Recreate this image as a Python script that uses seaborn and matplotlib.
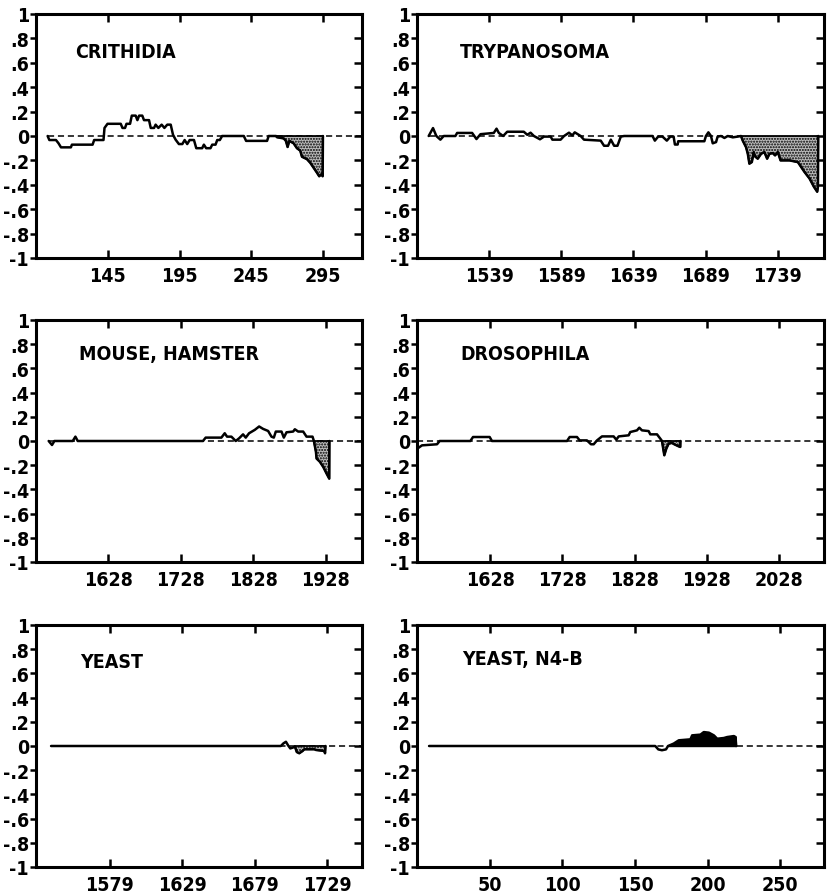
import numpy as np
import pandas as pd
import matplotlib
matplotlib.use("Agg")
import matplotlib.pyplot as plt
import seaborn as sns
from matplotlib import font_manager as fm

# ---------------- data ----------------
y_ticks = [1, 0.8, 0.6, 0.4, 0.2, 0, -0.2, -0.4, -0.6, -0.8, -1]
y_tick_labels = ["1", ".8", ".6", ".4", ".2", "0", "-.2", "-.4", "-.6", "-.8", "-1"]

crith_x = [103.1, 104.3, 108.9, 110.7, 112.4, 119.3, 120.0, 134.4, 135.5, 142.0, 142.7, 144.8,
           154.0, 155.2, 157.0, 158.0, 160.5, 161.7, 164.4, 165.6, 166.8, 169.0, 170.2, 173.7,
           174.9, 177.2, 178.3, 180.2, 182.5, 184.4, 186.4, 188.8, 190.4, 192.2, 194.5, 196.9,
           198.5, 200.3, 202.0, 205.0, 206.6, 210.7, 211.9, 213.5, 216.5, 217.7, 220.0, 221.2,
           223.0, 224.6, 239.7, 241.3, 255.9, 257.0, 262.1, 262.8, 267.5, 269.0, 270.2, 271.4,
           274.4, 276.7, 279.0, 280.2, 283.7, 286.0, 288.3, 290.6, 292.2, 294.1, 294.6, 294.8]
crith_y = [0.0, -0.033, -0.033, -0.06, -0.093, -0.093, -0.071, -0.071, -0.033, -0.033, 0.066, 0.1,
           0.1, 0.066, 0.066, 0.1, 0.1, 0.167, 0.167, 0.13, 0.167, 0.167, 0.13, 0.13,
           0.066, 0.066, 0.093, 0.066, 0.093, 0.066, 0.093, 0.093, 0.01, -0.03, -0.066, -0.066,
           -0.033, -0.066, -0.033, -0.033, -0.1, -0.1, -0.071, -0.1, -0.1, -0.071, -0.071, -0.033,
           -0.033, 0.0, 0.0, -0.04, -0.04, 0.0, 0.0, -0.01, -0.02, -0.04, -0.09, -0.04,
           -0.06, -0.1, -0.12, -0.17, -0.19, -0.22, -0.26, -0.3, -0.33, -0.31, -0.33, 0.0]
crith_xticks = [145, 195, 245, 295]
crith_xlim = (95, 322)
crith_shade_from = 262.1

tryp_x = [1497.1, 1500.1, 1502.4, 1505.2, 1507.5, 1515.6, 1516.8, 1527.2, 1530.2, 1533.0, 1542.2,
          1544.1, 1545.7, 1548.7, 1551.5, 1563.0, 1565.4, 1567.7, 1570.0, 1574.2, 1577.0, 1581.6,
          1582.8, 1588.5, 1590.9, 1594.3, 1596.6, 1598.3, 1602.4, 1604.7, 1616.3, 1618.6, 1621.4,
          1623.3, 1625.6, 1627.9, 1630.2, 1632.5, 1652.2, 1653.8, 1656.1, 1659.1, 1662.1, 1664.5,
          1666.8, 1667.7, 1669.6, 1670.0, 1688.1, 1689.2, 1690.9, 1692.7, 1693.9, 1696.2, 1697.3,
          1699.7, 1702.0, 1704.3, 1707.8, 1711.2, 1713.5, 1714.7, 1717.0, 1718.2, 1719.3, 1721.0,
          1722.3, 1723.3, 1725.1, 1727.4, 1729.7, 1731.6, 1733.2, 1735.5, 1737.1, 1739.0, 1740.9,
          1747.1, 1752.9, 1757.5, 1761.0, 1764.0, 1766.3, 1766.8, 1767.0]
tryp_y = [0.0, 0.065, 0.0, -0.03, 0.0, 0.0, 0.025, 0.025, -0.025, 0.015, 0.025,
          0.06, 0.025, 0.0, 0.035, 0.035, 0.01, 0.027, 0.0, -0.027, -0.005, -0.005,
          -0.03, -0.03, 0.0, 0.027, 0.005, 0.03, 0.0, -0.03, -0.038, -0.08, -0.08,
          -0.03, -0.08, -0.08, -0.005, 0.0, 0.0, -0.038, -0.005, -0.005, -0.038, -0.005,
          -0.005, -0.07, -0.07, -0.043, -0.043, 0.0, 0.03, 0.0, -0.06, -0.05, -0.005,
          0.0, -0.016, 0.0, -0.011, -0.005, 0.0, -0.038, -0.092, -0.146, -0.227, -0.214,
          -0.132, -0.168, -0.186, -0.146, -0.132, -0.186, -0.146, -0.14, -0.159, -0.132, -0.2,
          -0.2, -0.214, -0.295, -0.349, -0.416, -0.457, -0.416, 0.0]
tryp_xticks = [1539, 1589, 1639, 1689, 1739]
tryp_xlim = (1489, 1771)
tryp_shade_from = 1713.5

mouse_x = [1545.5, 1550.1, 1553.4, 1578.7, 1582.4, 1585.6, 1758.5, 1762.2, 1783.9, 1788.5, 1791.7,
           1797.7, 1803.7, 1808.3, 1813.8, 1817.5, 1822.1, 1830.0, 1836.0, 1841.5, 1848.4, 1853.0,
           1856.3, 1859.0, 1866.9, 1870.1, 1873.8, 1883.0, 1885.3, 1889.9, 1896.8, 1901.4, 1909.7,
           1911.6, 1914.4, 1915.3, 1919.9, 1924.5, 1929.1, 1932.8, 1933.0]
mouse_y = [0.0, -0.033, 0.0, 0.0, 0.036, 0.0, 0.0, 0.028, 0.028, 0.064, 0.036,
           0.036, 0.0, 0.022, 0.055, 0.028, 0.064, 0.092, 0.12, 0.1, 0.083, 0.036,
           0.028, 0.078, 0.078, 0.028, 0.072, 0.078, 0.097, 0.078, 0.078, 0.036, 0.036,
           0.0, -0.089, -0.145, -0.172, -0.214, -0.269, -0.311, 0.0]
mouse_xticks = [1628, 1728, 1828, 1928]
mouse_xlim = (1528, 1978)
mouse_shade_from = 1911.6

dros_x = [1527.0, 1533.9, 1554.7, 1558.4, 1600.8, 1604.5, 1627.5, 1630.7, 1734.5, 1738.2, 1748.3,
          1752.0, 1762.1, 1767.7, 1771.4, 1776.0, 1782.9, 1799.0, 1802.7, 1806.0, 1819.8, 1822.0,
          1831.3, 1834.5, 1838.2, 1847.4, 1849.7, 1859.0, 1863.6, 1865.9, 1867.2, 1869.1, 1871.9,
          1875.1, 1879.7, 1882.9, 1888.9, 1891.2, 1891.4]
dros_y = [-0.065, -0.036, -0.027, 0.0, 0.0, 0.033, 0.033, 0.0, 0.0, 0.033, 0.033,
          0.005, 0.005, -0.027, -0.027, 0.005, 0.038, 0.038, 0.011, 0.038, 0.047, 0.074,
          0.088, 0.11, 0.088, 0.082, 0.055, 0.055, 0.019, 0.0, -0.049, -0.118, -0.063,
          -0.022, -0.016, -0.027, -0.044, -0.049, 0.0]
dros_xticks = [1628, 1728, 1828, 1928, 2028]
dros_xlim = (1527, 2090)
dros_shade_from = 1865.9

yeast_x = [1538.4, 1697.0, 1698.8, 1700.5, 1702.0, 1703.5, 1705.1, 1706.7, 1708.0, 1709.7, 1712.0,
           1713.2, 1720.1, 1721.3, 1727.0, 1727.5, 1727.8]
yeast_y = [0.0, 0.0, 0.022, 0.035, 0.005, -0.02, -0.014, -0.005, -0.05, -0.06, -0.041,
           -0.027, -0.027, -0.033, -0.041, -0.06, 0.0]
yeast_xticks = [1579, 1629, 1679, 1729]
yeast_xlim = (1528, 1753)
yeast_shade_from = 1706.7

n4b_x = [8.3, 163.9, 166.0, 168.5, 171.3, 172.7, 176.6, 180.1, 188.1, 189.3, 195.0, 197.3,
         200.8, 204.2, 206.5, 211.1, 213.4, 218.0, 219.2, 219.5]
n4b_y = [0.0, 0.0, -0.028, -0.035, -0.028, 0.0, 0.02, 0.047, 0.055, 0.088, 0.094, 0.115,
         0.11, 0.088, 0.06, 0.066, 0.074, 0.082, 0.074, 0.0]
n4b_xticks = [50, 100, 150, 200, 250]
n4b_xlim = (0, 280)
n4b_shade_from = 172.7

# ---------------- style ----------------
sns.set_theme(style="white")
plt.rcParams["font.family"] = ["DejaVu Sans"]


def find_narrow():
    prefs = ["LiberationSansNarrow-Bold", "DejaVuSansCondensed-Bold", "LiberationSansNarrow-Regular",
             "DejaVuSansCondensed"]
    files = [f.fname for f in fm.fontManager.ttflist]
    import glob
    for d in ["/usr/share/fonts", "/usr/local/share/fonts"]:
        files += glob.glob(d + "/**/*.ttf", recursive=True)
    for pref in prefs:
        for f in files:
            if f.split("/")[-1].startswith(pref + "."):
                return f
    return None


narrow_path = find_narrow()


def tick_fp(size):
    if narrow_path:
        return fm.FontProperties(fname=narrow_path, size=size)
    return fm.FontProperties(family="DejaVu Sans", weight="bold", size=size * 0.85)


fig = plt.figure(figsize=(8.27, 8.95), dpi=100)
W, H = 827.0, 895.0


def rect(x0, x1, ytop, ybot):
    return [x0 / W, 1 - ybot / H, (x1 - x0) / W, (ybot - ytop) / H]


panels = [
    dict(title="CRITHIDIA", x=crith_x, y=crith_y, xt=crith_xticks, xl=crith_xlim,
         sh=crith_shade_from, solid=False, dash_end=None, r=rect(36, 362, 15, 259), tp=(0.12, 0.848)),
    dict(title="TRYPANOSOMA", x=tryp_x, y=tryp_y, xt=tryp_xticks, xl=tryp_xlim,
         sh=tryp_shade_from, solid=False, dash_end=tryp_shade_from, r=rect(417, 824, 15, 259), tp=(0.106, 0.848)),
    dict(title="MOUSE, HAMSTER", x=mouse_x, y=mouse_y, xt=mouse_xticks, xl=mouse_xlim,
         sh=mouse_shade_from, solid=False, dash_end=None, r=rect(36, 362, 321, 563), tp=(0.132, 0.86)),
    dict(title="DROSOPHILA", x=dros_x, y=dros_y, xt=dros_xticks, xl=dros_xlim,
         sh=dros_shade_from, solid=False, dash_end=None, r=rect(417, 824, 321, 563), tp=(0.106, 0.86)),
    dict(title="YEAST", x=yeast_x, y=yeast_y, xt=yeast_xticks, xl=yeast_xlim,
         sh=yeast_shade_from, solid=False, dash_end=None, r=rect(36, 362, 626, 868), tp=(0.135, 0.851)),
    dict(title="YEAST, N4-B", x=n4b_x, y=n4b_y, xt=n4b_xticks, xl=n4b_xlim,
         sh=n4b_shade_from, solid=True, dash_end=None, r=rect(417, 824, 626, 868), tp=(0.11, 0.86)),
]

plt.rcParams["hatch.linewidth"] = 1.0

for p in panels:
    ax = fig.add_axes(p["r"])
    df = pd.DataFrame({"x": p["x"], "y": p["y"]})
    xs = np.array(p["x"])
    ys = np.array(p["y"])
    dash_end = p["dash_end"] if p["dash_end"] is not None else p["xl"][1]
    ax.plot([xs[0], dash_end], [0, 0], color="black", lw=1.1, ls=(0, (4, 2.5)), zorder=2)
    m = xs >= p["sh"]
    if p["solid"]:
        ax.fill_between(xs[m], ys[m], 0, facecolor="black", edgecolor="black", lw=1.0, zorder=3)
    else:
        ax.fill_between(xs[m], ys[m], 0, facecolor="#bdbdbd", edgecolor="black",
                        hatch="......", lw=1.3, zorder=3)
    sns.lineplot(data=df, x="x", y="y", ax=ax, color="black", lw=1.8, sort=False,
                 estimator=None, zorder=4)
    ax.set_xlim(*p["xl"])
    ax.set_ylim(-1, 1)
    ax.set_xlabel("")
    ax.set_ylabel("")
    ax.set_xticks(p["xt"])
    ax.set_xticklabels([str(v) for v in p["xt"]])
    ax.set_yticks(y_ticks)
    ax.set_yticklabels(y_tick_labels)
    for lbl in ax.get_xticklabels() + ax.get_yticklabels():
        lbl.set_fontproperties(tick_fp(14))
    ax.tick_params(axis="x", direction="in", top=True, bottom=True, length=6, width=1.8,
                   pad=6, colors="black")
    ax.tick_params(axis="y", direction="out", left=True, right=False, length=4, width=1.8,
                   pad=1, colors="black")
    for s in ax.spines.values():
        s.set_visible(True)
        s.set_linewidth(2.2)
        s.set_color("black")
    ax2 = ax.twinx()
    ax2.set_ylim(-1, 1)
    ax2.set_yticks(y_ticks)
    ax2.tick_params(axis="y", direction="in", length=6, width=1.8, labelright=False,
                    right=True, colors="black")
    for s in ax2.spines.values():
        s.set_visible(False)
    ax2.grid(False)
    ax.grid(False)
    if narrow_path:
        tfp = fm.FontProperties(fname=narrow_path, size=14)
    else:
        tfp = fm.FontProperties(family="DejaVu Sans", weight="bold", size=12)
    ax.text(p["tp"][0], p["tp"][1], p["title"], transform=ax.transAxes, fontproperties=tfp,
            va="center", ha="left", color="black")

fig.savefig("out.png", dpi=100, facecolor="white")
